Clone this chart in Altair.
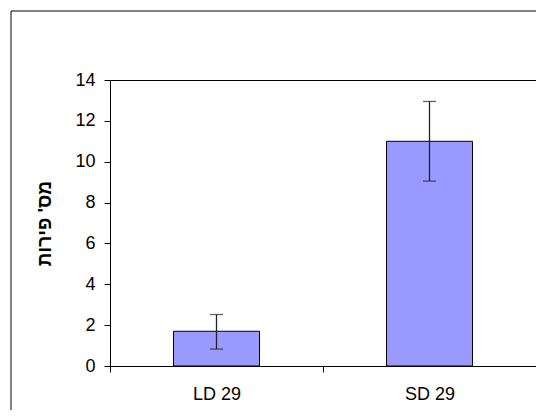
import altair as alt
import pandas as pd

categories = ["LD 29", "SD 29"]
means = [1.7, 11.0]
err_low = [0.83, 9.05]
err_high = [2.52, 12.95]

df = pd.DataFrame({"cat": categories, "mean": means, "lo": err_low, "hi": err_high})

FONT = "Liberation Sans"

x = alt.X(
    "cat:N",
    sort=categories,
    scale=alt.Scale(paddingInner=0, paddingOuter=0),
    axis=alt.Axis(
        title=None, labelAngle=0, tickBand="extent", tickSize=6,
        tickColor="black", domainColor="black", labelFontSize=18,
        labelFont=FONT, labelColor="black", labelPadding=13,
    ),
)
y_scale = alt.Scale(domain=[0, 14], nice=False)

base = alt.Chart(df)

bars = base.mark_bar(size=86, color="#9999FF", stroke="black", strokeWidth=1).encode(
    x=x,
    y=alt.Y(
        "mean:Q", scale=y_scale,
        axis=alt.Axis(
            title="מס' פירות", values=list(range(0, 15, 2)), grid=False,
            tickSize=6, tickColor="black", domainColor="black",
            labelFontSize=18, labelFont=FONT, labelColor="black", labelPadding=9,
            titleFont=FONT, titleFontSize=19, titleFontWeight="bold", titleColor="black",
            titleX=-66, titleY=143, titleAngle=-90, titleAlign="center", titleBaseline="middle",
        ),
    ),
)

rules = base.mark_rule(color="#222222", strokeWidth=1.3).encode(
    x=alt.X("cat:N", sort=categories), y=alt.Y("lo:Q", scale=y_scale), y2="hi:Q"
)
caps_hi = base.mark_tick(color="#222222", size=13, thickness=1.3, orient="horizontal").encode(
    x=alt.X("cat:N", sort=categories), y=alt.Y("hi:Q", scale=y_scale)
)
caps_lo = base.mark_tick(color="#222222", size=13, thickness=1.3, orient="horizontal").encode(
    x=alt.X("cat:N", sort=categories), y=alt.Y("lo:Q", scale=y_scale)
)

frame = alt.Chart(alt.Data(values=[{"a": 1}])).mark_rect(
    fillOpacity=0, stroke="black", strokeWidth=1
).encode(
    x=alt.value(-99), x2=alt.value(700), y=alt.value(-69), y2=alt.value(600)
)

chart = alt.layer(frame, bars, rules, caps_hi, caps_lo).properties(
    width=426, height=286,
    autosize=alt.AutoSizeParams(type="none"),
    padding={"left": 102, "top": 72, "right": 0, "bottom": 44},
    background="white",
).configure_view(stroke="black", strokeWidth=1)

chart.save("out.html", embed_options={"renderer": "svg", "actions": False})
